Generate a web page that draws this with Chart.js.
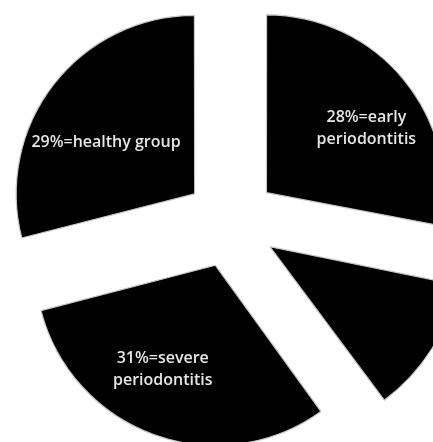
<!DOCTYPE html>
<html>
<head>
<meta charset="utf-8">
<script src="https://cdn.jsdelivr.net/npm/chart.js@4/dist/chart.umd.min.js"></script>
<style>
  html, body { margin: 0; padding: 0; background: #fff; }
  #wrap { width: 433px; height: 442px; overflow: hidden; position: relative; }
</style>
</head>
<body>
<div id="wrap"><canvas id="pieChart"></canvas></div>
<script>
// groups, clockwise from 12 o'clock
const groups = ['early periodontitis', 'other', 'severe periodontitis', 'healthy group'];
const percents = [28, 12, 31, 29];
// text after "NN%=", one entry per line; null = no label
const labelText = [['early', 'periodontitis'], null, ['severe', 'periodontitis'], ['healthy group']];

// label placement: angle nudge (deg) from slice middle, distance as fraction of radius
const labelPlace = [
  { turn: 7, dist: 0.67 },
  null,
  { turn: 7, dist: 0.66 },
  { turn: -7.5, dist: 0.58 }
];

// arc elements shift by offset / 4 when drawn
const explode = 46;

const sliceLabels = {
  id: 'sliceLabels',
  afterDatasetsDraw(chart) {
    const ctx = chart.ctx;
    const meta = chart.getDatasetMeta(0);
    ctx.save();
    ctx.font = '600 16px "Open Sans", sans-serif';
    ctx.fillStyle = '#e6e6e6';
    ctx.textAlign = 'center';
    ctx.textBaseline = 'middle';
    meta.data.forEach((arc, i) => {
      if (!labelText[i]) return;
      const p = arc.getProps(['x', 'y', 'startAngle', 'endAngle', 'outerRadius'], true);
      const off = (arc.options.offset || 0) / 4;
      const mid = (p.startAngle + p.endAngle) / 2;
      const vx = p.x + Math.cos(mid) * off;
      const vy = p.y + Math.sin(mid) * off;
      const a = mid + labelPlace[i].turn * Math.PI / 180;
      const d = p.outerRadius * labelPlace[i].dist;
      const cx = vx + Math.cos(a) * d;
      const cy = vy + Math.sin(a) * d;
      const lines = labelText[i].slice();
      lines[0] = percents[i] + '%=' + lines[0];
      const lh = 22;
      lines.forEach((line, j) => {
        ctx.fillText(line, cx, cy + (j - (lines.length - 1) / 2) * lh);
      });
    });
    ctx.restore();
  }
};

const ctx = document.getElementById('pieChart').getContext('2d');
new Chart(ctx, {
  type: 'pie',
  data: {
    labels: groups,
    datasets: [{
      data: percents,
      backgroundColor: '#000',
      borderColor: '#c8c8c8',
      borderWidth: 1.2,
      offset: explode * 4,
      radius: 177,
      clip: false
    }]
  },
  options: {
    responsive: true,
    maintainAspectRatio: false,
    animation: false,
    layout: { padding: { left: 29, top: 2 } },
    plugins: {
      legend: { display: false },
      tooltip: { enabled: false }
    }
  },
  plugins: [sliceLabels]
});
</script>
</body>
</html>
